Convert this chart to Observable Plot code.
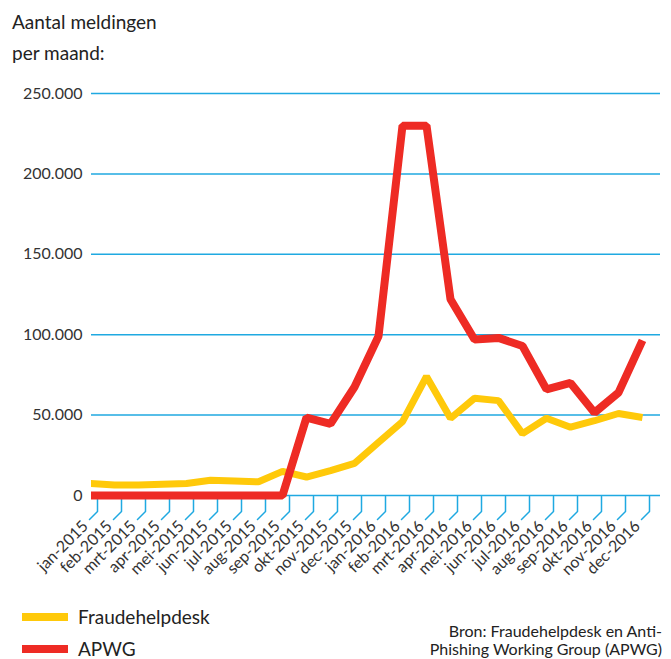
<!DOCTYPE html>
<html>
<head>
<meta charset="utf-8">
<script src="https://cdn.jsdelivr.net/npm/d3@7"></script>
<script src="https://cdn.jsdelivr.net/npm/@observablehq/plot@0.6"></script>
<style>
  html, body { margin: 0; padding: 0; background: #fff; }
  #wrap { position: relative; width: 671px; height: 659px; font-family: Lato, "Open Sans", sans-serif; color: #222; }
  #title { position: absolute; left: 12px; top: 6px; font-size: 19px; line-height: 31px; color: #222; }
  #chart { position: absolute; left: 0; top: 70px; }
  .leg { position: absolute; left: 22px; font-size: 19px; color: #222; display: flex; align-items: center; }
  .sw { width: 46px; height: 8px; margin-right: 10px; }
  #source { position: absolute; right: 9px; top: 622px; font-size: 16px; line-height: 18px; text-align: right; color: #222; }
</style>
</head>
<body>
<div id="wrap">
  <div id="title">Aantal meldingen<br>per maand:</div>
  <div id="chart"></div>
  <div class="leg" style="top:605px"><div class="sw" id="sw0"></div><span id="lg0"></span></div>
  <div class="leg" style="top:637px"><div class="sw" id="sw1"></div><span id="lg1"></span></div>
  <div id="source">Bron: Fraudehelpdesk en Anti-<br>Phishing Working Group (APWG)</div>
</div>
<script>
const months = ["jan-2015","feb-2015","mrt-2015","apr-2015","mei-2015","jun-2015","jul-2015","aug-2015","sep-2015","okt-2015","nov-2015","dec-2015",
                "jan-2016","feb-2016","mrt-2016","apr-2016","mei-2016","jun-2016","jul-2016","aug-2016","sep-2016","okt-2016","nov-2016","dec-2016"];
const fraudehelpdesk = [7500, 6500, 6500, 7000, 7500, 9500, 9000, 8500, 15000, 11500, 15500, 20000,
                        33000, 46000, 74000, 48000, 60500, 59000, 38500, 48000, 42500, 46500, 51000, 48500];
const apwg = [0, 0, 0, 0, 0, 0, 0, 0, 0, 48500, 44500, 67500,
              99000, 230000, 230000, 122000, 97000, 98000, 93000, 66000, 70000, 51500, 64000, 96500];
const seriesNames = ["Fraudehelpdesk", "APWG"];
const seriesColors = ["#ffc90a", "#ee2b24"];
const yTicks = [0, 50000, 100000, 150000, 200000, 250000];

const nl = d3.formatLocale({decimal: ",", thousands: ".", grouping: [3], currency: ["", ""]});
const fmt = nl.format(",");

const rows = [];
months.forEach((m, i) => {
  rows.push({month: m, series: seriesNames[0], value: fraudehelpdesk[i]});
});
months.forEach((m, i) => {
  rows.push({month: m, series: seriesNames[1], value: apwg[i]});
});

const blue = "#1fa9e1";

const plot = Plot.plot({
  width: 671,
  height: 520,
  marginTop: 23,
  marginBottom: 88.568,
  marginLeft: 91,
  marginRight: 11,
  style: {fontFamily: "Lato, 'Open Sans', sans-serif", fontSize: "16px", color: "#333", background: "transparent"},
  x: {type: "point", domain: months, padding: 0, insetLeft: -5, insetRight: 14.5, axis: null},
  y: {domain: [-4000, 250000], axis: null},
  color: {domain: seriesNames, range: seriesColors},
  marks: [
    Plot.ruleY(yTicks, {stroke: blue, strokeWidth: 1.5}),
    Plot.axisY(yTicks, {tickSize: 0, tickPadding: 9, tickFormat: d => fmt(d), fill: "#333", fontSize: 16, style: "letter-spacing:2px", label: null}),
    Plot.vector(months, {
      x: d => d, y: 0, length: 15, anchor: "start", stroke: blue, strokeWidth: 1.5, dy: 1, dx: 7,
      shape: {draw(context, l) { context.moveTo(0, 0); context.lineTo(0, l); context.lineTo(-8, l + 8); }}
    }),
    Plot.text(months, {
      x: d => d, y: 0, text: d => d, rotate: -45, textAnchor: "end", dx: -5, dy: 28,
      fill: "#333", fontSize: 16, style: "letter-spacing:1.2px"
    }),
    Plot.line(rows.filter(r => r.series === seriesNames[0]), {
      x: "month", y: "value", stroke: "series", strokeWidth: 7, strokeLinejoin: "miter", strokeLinecap: "butt", curve: "linear", clip: "frame"
    }),
    Plot.line(rows.filter(r => r.series === seriesNames[1]), {
      x: "month", y: "value", stroke: "series", strokeWidth: 8, strokeLinejoin: "miter", strokeLinecap: "butt", curve: "linear", clip: "frame"
    })
  ]
});
document.getElementById("chart").appendChild(plot);
seriesNames.forEach((s, i) => {
  document.getElementById("sw" + i).style.background = seriesColors[i];
  document.getElementById("lg" + i).textContent = s;
});
</script>
</body>
</html>
